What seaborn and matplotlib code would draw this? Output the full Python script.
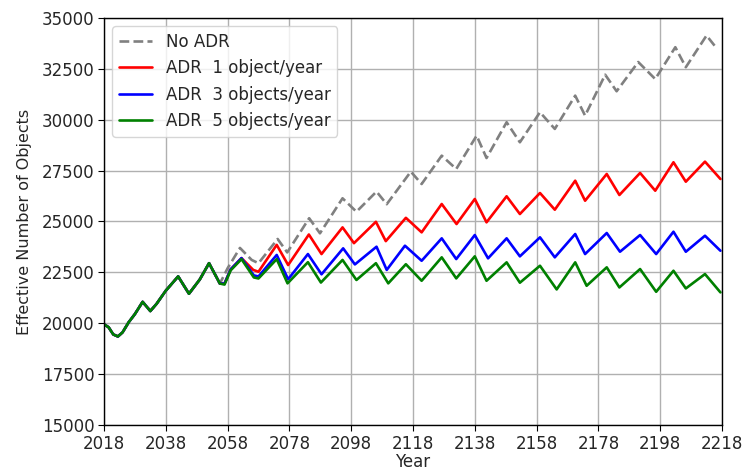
import matplotlib
matplotlib.use("Agg")
import matplotlib.pyplot as plt
import seaborn as sns
import pandas as pd

# Shared history: all scenarios coincide until removal starts to matter
early_years = [2018, 2019.5, 2021, 2022.5, 2024, 2026, 2028, 2030.5, 2033, 2035,
               2038, 2042, 2045.5, 2049, 2052, 2055.5]
early_values = [19950, 19800, 19450, 19350, 19550, 20050, 20450, 21050, 20600, 20950,
                21600, 22300, 21450, 22150, 22950, 21950]

# No active debris removal
no_adr_years = [2058, 2062, 2065.8, 2068, 2074.2, 2077.3, 2084.4, 2087.9, 2095.2, 2099.7,
                2106.2, 2109.5, 2117.3, 2120.8, 2127.3, 2132, 2138.6, 2141.8, 2148.3, 2152.6,
                2159.1, 2163.9, 2170.5, 2173.7, 2180.2, 2183.9, 2190.9, 2196.4, 2202.9, 2206.3,
                2213, 2216]
no_adr_values = [22700, 23700, 23110, 22950, 24140, 23480, 25160, 24420, 26140, 25480,
                 26470, 25850, 27450, 26842, 28234, 27580, 29218, 28118, 29877, 28893,
                 30369, 29549, 31185, 30201, 32213, 31400, 32836, 32000, 33565, 32582,
                 34139, 33565]

# ADR, 1 object/year
adr1_years = [2057, 2059, 2062.5, 2066.3, 2068, 2073.9, 2077.6, 2084.3, 2088.4, 2095.2,
              2098.9, 2106, 2109.2, 2115.7, 2120.8, 2127.3, 2132.1, 2138, 2141.8, 2148.3,
              2152.6, 2159.1, 2163.9, 2170.5, 2173.7, 2180.7, 2184.8, 2191.5, 2196.4, 2202.3,
              2206.3, 2212.5, 2217.5]
adr1_values = [21950, 22650, 23200, 22620, 22530, 23850, 22860, 24360, 23400, 24710,
               23935, 24985, 24035, 25180, 24467, 25859, 24875, 26105, 24959, 26238,
               25367, 26400, 25579, 27005, 26021, 27334, 26302, 27384, 26513, 27910,
               26956, 27941, 27088]

# ADR, 3 objects/year
adr3_years = [2057, 2059, 2062.5, 2066.5, 2068, 2073.9, 2077.6, 2084, 2088.4, 2095.4,
              2099.2, 2106.2, 2109.5, 2115.4, 2120.8, 2127.3, 2132, 2138, 2142.3, 2148.3,
              2152.6, 2159.1, 2163.9, 2170.5, 2173.7, 2180.7, 2185, 2191.5, 2196.7, 2202.3,
              2206.3, 2212.5, 2217.5]
adr3_values = [21950, 22650, 23200, 22350, 22300, 23355, 22160, 23400, 22405, 23680,
               22890, 23760, 22620, 23810, 23070, 24172, 23154, 24334, 23189, 24172,
               23287, 24221, 23238, 24384, 23400, 24433, 23514, 24334, 23400, 24497,
               23514, 24300, 23562]

# ADR, 5 objects/year
adr5_years = [2057, 2059, 2062.5, 2066.5, 2068, 2073.9, 2077.4, 2084, 2088.2, 2095.2,
              2099.7, 2106, 2110, 2115.7, 2120.8, 2127.3, 2132, 2138, 2141.8, 2148.3,
              2152.6, 2159.1, 2164.5, 2170.5, 2174.2, 2180.7, 2184.8, 2191.5, 2196.7, 2202.3,
              2206.3, 2212.5, 2217.5]
adr5_values = [21900, 22600, 23150, 22250, 22200, 23150, 21960, 23000, 22000, 23110,
               22125, 22950, 21960, 22900, 22087, 23238, 22205, 23287, 22087, 22992,
               21992, 22826, 21662, 22992, 21841, 22746, 21759, 22662, 21546, 22579,
               21710, 22416, 21516]

x_ticks = list(range(2018, 2219, 20))
y_ticks = list(range(15000, 35001, 2500))

series = [
    ("No ADR", no_adr_years, no_adr_values, "gray", "--"),
    ("ADR  1 object/year", adr1_years, adr1_values, "red", "-"),
    ("ADR  3 objects/year", adr3_years, adr3_values, "blue", "-"),
    ("ADR  5 objects/year", adr5_years, adr5_values, "green", "-"),
]

sns.set_style("ticks")
plt.rcParams["font.family"] = ["DejaVu Sans"]

fig, ax = plt.subplots(figsize=(7.46, 4.71), dpi=100)
fig.subplots_adjust(left=0.1394, right=0.9678, top=0.9618, bottom=0.0977)

for label, yrs, vals, color, ls in series:
    df = pd.DataFrame({"Year": early_years + yrs, "Objects": early_values + vals})
    sns.lineplot(data=df, x="Year", y="Objects", ax=ax, color=color, linestyle=ls,
                 linewidth=1.9, label=label, estimator=None, sort=True)

ax.set_xlim(2018, 2218)
ax.set_ylim(15000, 35000)
ax.set_xticks(x_ticks)
ax.set_yticks(y_ticks)
ax.tick_params(labelsize=12, direction="out", length=4, color="black", pad=3)
ax.set_xlabel("Year", fontsize=12, labelpad=0)
ax.set_ylabel("Effective Number of Objects", fontsize=11.5, labelpad=7)
ax.grid(True, color="#b0b0b0", linewidth=1)
for s in ax.spines.values():
    s.set_visible(True)
    s.set_color("black")
    s.set_linewidth(1)

ax.legend(loc="upper left", fontsize=12, frameon=True)

fig.savefig("out.png", dpi=100)
